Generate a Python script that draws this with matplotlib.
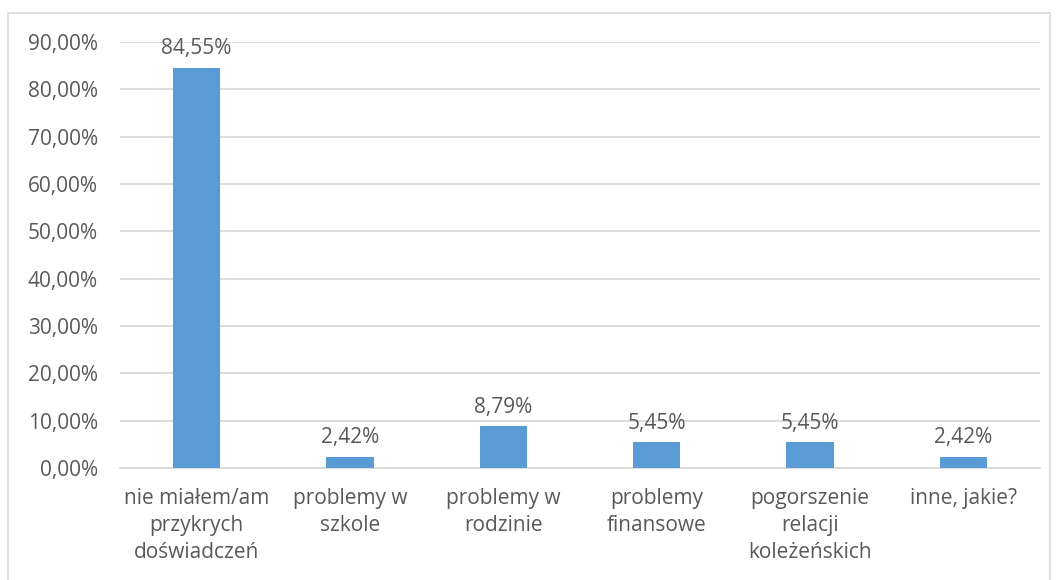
import matplotlib.pyplot as plt
from matplotlib.patches import Rectangle
from matplotlib.ticker import FuncFormatter

plt.rcParams['font.family'] = ['Open Sans', 'DejaVu Sans']

# Data
categories = [
    "nie miałem/am\nprzykrych\ndoświadczeń",
    "problemy w\nszkole",
    "problemy w\nrodzinie",
    "problemy\nfinansowe",
    "pogorszenie\nrelacji\nkoleżeńskich",
    "inne, jakie?",
]
values = [84.55, 2.42, 8.79, 5.45, 5.45, 2.42]
y_ticks = [0, 10, 20, 30, 40, 50, 60, 70, 80, 90]

text_col = '#595959'
grid_col = '#d9d9d9'
bar_col = '#5b9bd5'

fig = plt.figure(figsize=(10.57, 5.8), dpi=100)
ax = fig.add_axes([0.1135, 0.193, 0.8705, 0.7346])

x = range(len(categories))
bars = ax.bar(x, values, width=0.31, color=bar_col, zorder=3)

for xi, v in zip(x, values):
    ax.annotate(f"{v:.2f}%".replace('.', ','), (xi, v), xytext=(0, 6),
                textcoords='offset points', ha='center', va='bottom',
                fontsize=15, color=text_col)

ax.set_xlim(-0.5, len(categories) - 0.5)
ax.set_ylim(0, 90)
ax.set_yticks(y_ticks)
ax.yaxis.set_major_formatter(FuncFormatter(lambda v, p: f"{v:.2f}%".replace('.', ',')))
ax.grid(axis='y', color=grid_col, linewidth=1.3, zorder=0)
ax.set_xticks(list(x))
ax.set_xticklabels(categories, linespacing=1.38)
ax.tick_params(axis='both', length=0, labelsize=15, labelcolor=text_col)
ax.tick_params(axis='y', pad=16)
ax.tick_params(axis='x', pad=14)

for side in ['top', 'right', 'left']:
    ax.spines[side].set_visible(False)
ax.spines['bottom'].set_color(grid_col)
ax.spines['bottom'].set_linewidth(1.3)

# outer chart border
fig.patches.append(Rectangle((8 / 1057, -0.01), 1042 / 1057, 1 - 13 / 580 + 0.01,
                             transform=fig.transFigure, fill=False,
                             edgecolor=grid_col, linewidth=1.2))

fig.savefig('out.png', dpi=100)
